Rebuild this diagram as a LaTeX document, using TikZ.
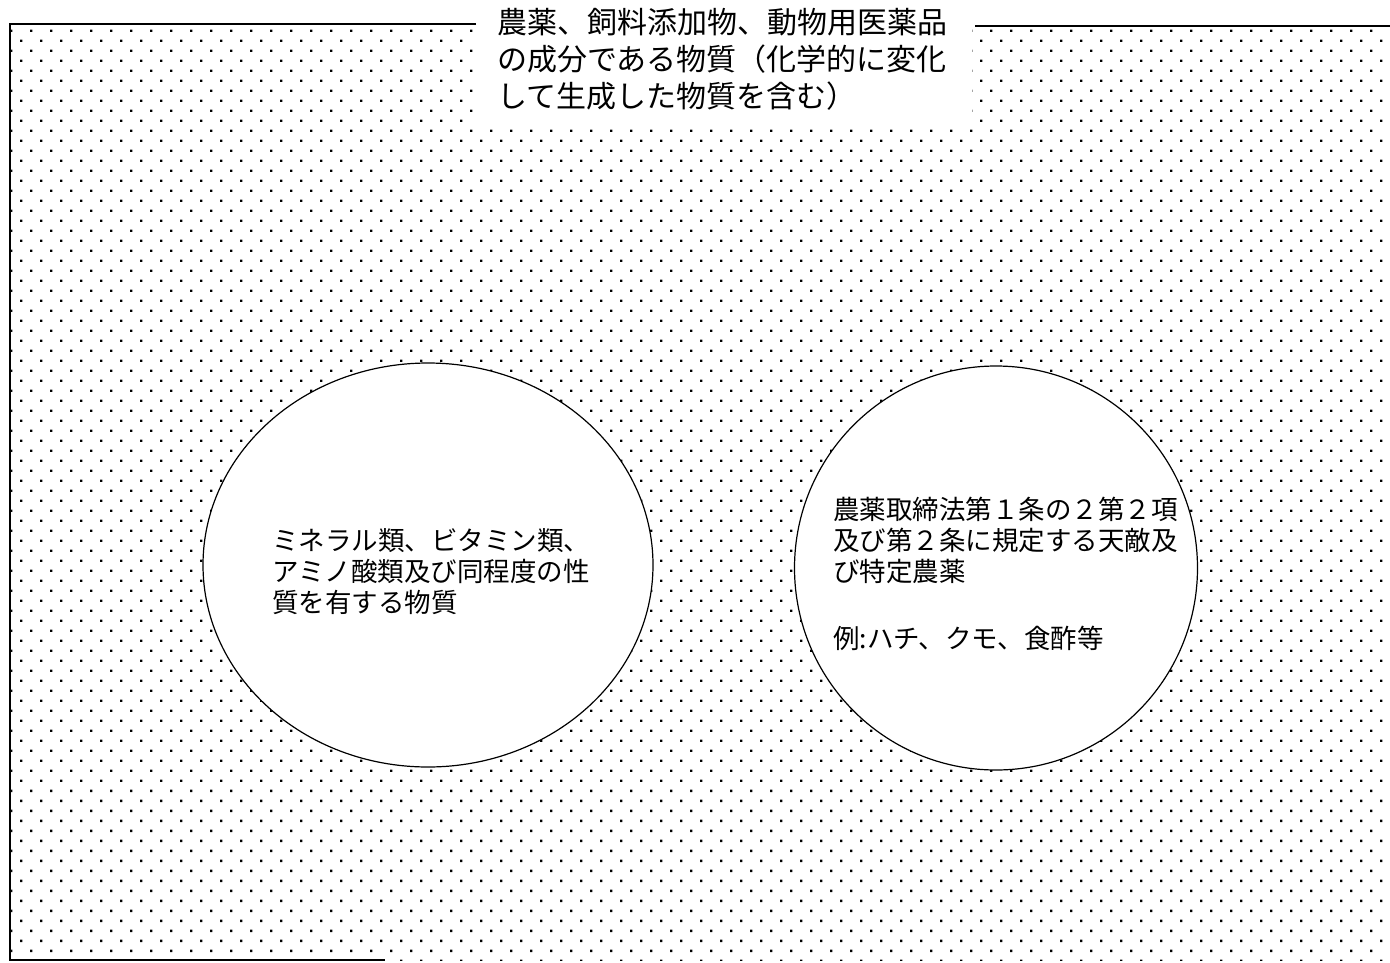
\documentclass[tikz,border=0pt]{standalone}
\usepackage{fontspec}
\usetikzlibrary{patterns,shapes.geometric}
\newfontfamily\jpfont{Noto Sans CJK JP}
\pgfdeclarepatternformonly{halftone}{\pgfpoint{-1pt}{-1pt}}{\pgfpoint{21pt}{21pt}}{\pgfpoint{20pt}{20pt}}{%
  \pgfpathrectangle{\pgfpoint{0pt}{0pt}}{\pgfpoint{2.4pt}{2.4pt}}%
  \pgfpathrectangle{\pgfpoint{10pt}{10pt}}{\pgfpoint{2.4pt}{2.4pt}}%
  \pgfusepath{fill}}
\begin{document}
\begin{tikzpicture}[x=1pt,y=-1pt,
  frameline/.style={line width=2pt},
  bubble/.style={draw, line width=1.2pt, fill=white, ellipse, inner sep=0pt},
  titletext/.style={font=\jpfont\fontsize{30}{30}\selectfont, anchor=base west, inner sep=0pt},
  bodytext/.style={font=\jpfont\fontsize{26.5}{26.5}\selectfont, anchor=base west, inner sep=0pt}]
\useasboundingbox (0,0) rectangle (1390,962);
\fill[pattern=halftone] (10,24) rectangle (1390,960);
\fill[white] (478,0) rectangle (972,122);
\coordinate (tl) at (10,24);
\coordinate (tm) at (476,24);
\coordinate (bl) at (10,960);
\coordinate (bm) at (385,960);
\coordinate (tr1) at (975,26);
\coordinate (tr2) at (1390,26);
\draw[frameline] (tm) -- (tl) -- (bl) -- (bm);
\draw[frameline] (tr1) -- (tr2);
\node[bubble, minimum width=450pt, minimum height=404pt] (left) at (428,565) {};
\node[bubble, minimum width=403pt, minimum height=404pt] (right) at (996,568) {};
\node[titletext] (t1) at (497,33.5) {農薬、飼料添加物、動物用医薬品};
\node[titletext] (t2) at (497,70.5) {の成分である物質（化学的に変化};
\node[titletext] (t3) at (497,107.5) {して生成した物質を含む）};
\node[bodytext] (l1) at (272,550) {ミネラル類、ビタミン類、};
\node[bodytext] (l2) at (272,581) {アミノ酸類及び同程度の性};
\node[bodytext] (l3) at (272,612) {質を有する物質};
\node[bodytext] (r1) at (833,519) {農薬取締法第１条の２第２項};
\node[bodytext] (r2) at (833,550) {及び第２条に規定する天敵及};
\node[bodytext] (r3) at (833,581) {び特定農薬};
\node[bodytext] (r4) at (833,648) {例:ハチ、クモ、食酢等};
\end{tikzpicture}
\end{document}
